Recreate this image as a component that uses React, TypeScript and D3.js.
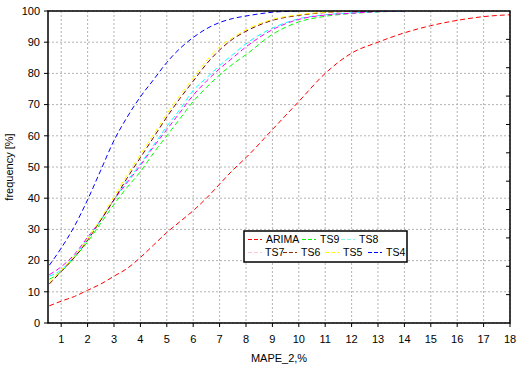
import React from 'react';
import * as d3 from 'd3';

const WIDTH = 520;
const HEIGHT = 384;
const M = { l: 48, r: 10, t: 11, b: 61 };

// sample points on MAPE axis
const XS = [0.55, 1, 1.5, 2, 2.5, 3, 3.5, 4, 4.5, 5, 5.5, 6, 6.5, 7, 7.5, 8, 9, 10, 11, 12, 13, 14, 15, 16, 17, 18];

const ARIMA = [5.5, 7, 8.5, 10.5, 12.5, 15, 17.5, 21, 25, 29, 32.5, 36, 40, 44.5, 49, 53, 62, 71, 80, 86.5, 90, 93, 95.3, 97, 98.2, 98.8];
const TS9 = [14, 16.5, 21, 26, 32, 38, 43.5, 48.5, 54.5, 60, 65.5, 71, 75.5, 79.5, 83, 86, 92.5, 96.5, 98.3, 99.2, 99.7, 100];
const TS8 = [15, 17, 21.5, 27, 33, 39.5, 45.5, 51, 57, 63, 68.5, 74.5, 78.5, 82.5, 86, 89.5, 94.5, 97.5, 98.8, 99.4, 99.8, 100];
const TS7 = [15.5, 18, 22, 27.5, 33, 39.5, 45, 50.5, 56.5, 62, 67.5, 73, 77.5, 81.5, 85, 88.5, 94, 97.3, 98.7, 99.3, 99.8, 100];
const TS6 = [12.5, 16.5, 21, 26.5, 33, 39.5, 46.5, 53, 59.5, 66, 72, 77.5, 83, 87.5, 91, 93.5, 97, 98.6, 99.5, 99.9, 100];
const TS5 = [13, 17, 21.5, 27, 33.5, 40.5, 47.5, 54, 60.5, 67, 73, 78.5, 84, 88.5, 91.5, 94, 97.3, 98.8, 99.6, 100];
const TS4 = [18.5, 24, 31, 39.5, 49, 58.5, 66, 72.5, 78, 83.5, 88, 91.5, 94.3, 96.3, 97.6, 98.4, 99.6, 100];

const X_TICKS = d3.range(1, 19);
const Y_TICKS = d3.range(0, 101, 10);

// draw order, line colour, legend swatch colour
const SERIES = [
  { name: 'ARIMA', values: ARIMA, color: '#ff0000', swatch: '#ff0000' },
  { name: 'TS9', values: TS9, color: '#00ff00', swatch: '#00ff00' },
  { name: 'TS8', values: TS8, color: '#00ffff', swatch: '#80ffe0' },
  { name: 'TS7', values: TS7, color: '#ff00ff', swatch: '#ffc8d0' },
  { name: 'TS6', values: TS6, color: '#800000', swatch: '#8b2a00' },
  { name: 'TS5', values: TS5, color: '#ffff00', swatch: '#ffff00' },
  { name: 'TS4', values: TS4, color: '#0000ff', swatch: '#0000ff' },
];

// legend layout: [series name, swatch x, text x, row]
const LEGEND = [
  ['ARIMA', 248, 266, 0],
  ['TS9', 302, 320, 0],
  ['TS8', 341, 359, 0],
  ['TS7', 248, 265, 1],
  ['TS6', 283, 301, 1],
  ['TS5', 325, 343, 1],
  ['TS4', 368, 386, 1],
] as const;

const FONT = "'Liberation Sans', Arial, sans-serif";

const App = () => {
  const w = WIDTH - M.l - M.r;
  const h = HEIGHT - M.t - M.b;

  const xScale = d3.scaleLinear().domain([0.5, 18]).range([0, w]);
  const yScale = d3.scaleLinear().domain([0, 100]).range([h, 0]);
  // unlabelled inner ticks on the right edge
  const rScale = d3.scaleLinear().domain([0, 11]).range([h, 0]);

  const line = d3
    .line<number>()
    .x((d, i) => xScale(XS[i]))
    .y((d) => yScale(d))
    .curve(d3.curveMonotoneX);

  const colorOf: Record<string, string> = {};
  SERIES.forEach((s) => (colorOf[s.name] = s.swatch));

  return (
    <svg
      width={WIDTH}
      height={HEIGHT}
      style={{ position: 'absolute', left: 0, top: 0, background: '#fff' }}
      fontFamily={FONT}
      fontSize={11}
    >
      <defs>
        <clipPath id="plot">
          <rect x={0} y={0} width={w} height={h} />
        </clipPath>
      </defs>
      <g transform={`translate(${M.l},${M.t})`}>
        {/* grid */}
        {X_TICKS.map((t) => (
          <line key={'gx' + t} x1={xScale(t)} x2={xScale(t)} y1={0} y2={h} stroke="#b4b4b4" strokeDasharray="2,2" />
        ))}
        {Y_TICKS.map((t) => (
          <line key={'gy' + t} x1={0} x2={w} y1={yScale(t)} y2={yScale(t)} stroke="#b4b4b4" strokeDasharray="2,2" />
        ))}

        {/* curves */}
        <g clipPath="url(#plot)">
          {SERIES.map((s) => (
            <path
              key={s.name}
              d={line(s.values) || ''}
              fill="none"
              stroke={s.color}
              strokeWidth={1}
              strokeDasharray="5,3"
            />
          ))}
        </g>

        {/* frame */}
        <rect x={0} y={0} width={w} height={h} fill="none" stroke="#000" strokeWidth={1.5} />

        {/* y axis */}
        {Y_TICKS.map((t) => (
          <g key={'yt' + t} transform={`translate(0,${yScale(t)})`}>
            <line x1={-4} x2={0} stroke="#000" />
            <text x={-8} dy="0.35em" textAnchor="end">
              {t}
            </text>
          </g>
        ))}
        {d3.range(1, 11).map((t) => (
          <line key={'rt' + t} x1={w - 4} x2={w} y1={rScale(t)} y2={rScale(t)} stroke="#000" />
        ))}

        {/* x axis */}
        {X_TICKS.map((t) => (
          <g key={'xt' + t} transform={`translate(${xScale(t)},${h})`}>
            <line y1={0} y2={4} stroke="#000" />
            <text y={20} textAnchor="middle">
              {t}
            </text>
          </g>
        ))}

        <text x={w / 2} y={h + 39} textAnchor="middle">
          MAPE_2,%
        </text>
        <text transform={`translate(${-35},${h / 2}) rotate(-90)`} textAnchor="middle">
          frequency [%]
        </text>
      </g>

      {/* legend */}
      <g fontSize={10.5}>
        <rect x={244} y={231} width={163} height={31} fill="#fff" stroke="#000" strokeWidth={1.5} />
        {LEGEND.map(([name, sx, tx, row]) => {
          const y = 239.5 + row * 13;
          return (
            <g key={'lg' + name}>
              <line x1={sx} x2={sx + 14} y1={y} y2={y} stroke={colorOf[name]} strokeDasharray="4,2" />
              <text x={tx} y={y} dy="0.35em">
                {name}
              </text>
            </g>
          );
        })}
      </g>
    </svg>
  );
};

export default App;
